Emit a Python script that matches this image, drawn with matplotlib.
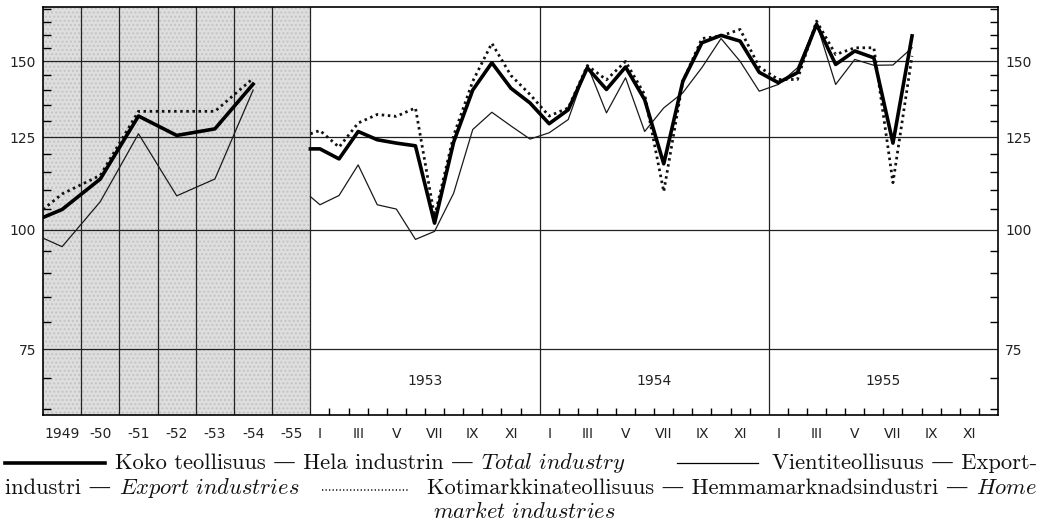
import matplotlib
matplotlib.use('Agg')
import matplotlib.pyplot as plt
from matplotlib.ticker import FixedLocator, NullFormatter
from matplotlib.lines import Line2D

plt.rcParams['mathtext.fontset'] = 'cm'

# vuosisarja 1949-1954 (ensimmainen arvo = alkupiste reunalla)
years = ['1949', '-50', '-51', '-52', '-53', '-54', '-55']
annual_total = [103, 105, 113, 131.5, 125.5, 127.5, 142]
annual_export = [98, 96, 107, 126, 108.5, 113, 140]
annual_home = [105, 109, 114, 133, 133, 133, 144]

# kuukausisarja I/1953 - VIII/1955 (ensimmainen arvo = alkupiste reunalla)
month_total = [121.5, 121.5, 118.6, 126.7, 124.2, 123.2, 122.4, 101.6, 123.5,
               140, 149.5, 140.6, 135.7, 129.1, 133.5, 147.7, 140.2, 148,
               136.8, 117.2, 143, 156.9, 159.7, 157.5, 146.1, 142.5, 146, 164,
               148.9, 153.8, 151.3, 123.2, 159.5]
month_export = [108.3, 106.2, 108.6, 116.9, 106.2, 105.1, 97.7, 99.6, 109.2,
                127.3, 132.7, 128.4, 124.4, 126.3, 130.4, 148.6, 132.5, 144.2,
                126.7, 134.1, 139.1, 147.8, 158.5, 150, 139.6, 141.9, 147.7,
                164.5, 141.9, 150.7, 148.6, 148.7, 155]
month_home = [126, 127, 122, 129.3, 132, 131.4, 134.1, 103.2, 125.5, 143,
              156.7, 145, 138.5, 131.5, 134.1, 148.5, 143.5, 150, 138.5, 109.6,
              143, 158.5, 159.5, 162, 148, 143.6, 143.6, 165.3, 152.5, 155, 155,
              112, 152]
month_years = ['1953', '1954', '1955']
roman = ['I', 'III', 'V', 'VII', 'IX', 'XI']

fig = plt.figure(figsize=(10.43, 5.23), dpi=100)
ax = fig.add_axes([43 / 1043, 1 - 415 / 523, 955 / 1043, 408 / 523])

# x-akseli: vuosi = 2 yksikkoa, kuukausi = 1 yksikko
xa = [2 * p + 1 for p in [-0.5] + list(range(len(annual_total) - 1))]
xm = [14 + p + 0.5 for p in [-0.5] + list(range(len(month_total) - 1))]

ax.axvspan(0, 14, facecolor='#dedede', edgecolor='#c4c4c4', hatch='....',
           zorder=0, lw=0)
for v in [75, 100, 125, 150]:
    ax.axhline(v, color='#222222', lw=0.9, zorder=1)
for x in list(range(2, 15, 2)) + [26, 38]:
    ax.axvline(x, color='#222222', lw=0.9, zorder=1)

for xs, tot, exp, home in [(xa, annual_total, annual_export, annual_home),
                           (xm, month_total, month_export, month_home)]:
    ax.plot(xs, exp, color='#1a1a1a', lw=0.9, zorder=3)
    ax.plot(xs, home, color='#111111', lw=2.0, ls=(0, (0.9, 1.3)), zorder=3)
    ax.plot(xs, tot, color='#000000', lw=2.6, zorder=4)

for i, y in enumerate(month_years):
    ax.text(20 + 12 * i, 69.5, y, ha='center', va='center', fontsize=10,
            color='#222222')

ax.set_yscale('log')
ax.set_ylim(64, 171)
ax.set_xlim(0, 50)

ax.set_yticks([75, 100, 125, 150])
ax.set_yticklabels(['75', '100', '125', '150'])
ax.yaxis.set_minor_locator(FixedLocator(
    [v for v in range(65, 171, 5) if v not in (75, 100, 125, 150)]))
ax.yaxis.set_minor_formatter(NullFormatter())
ax.tick_params(axis='y', which='major', length=0, pad=5, labelsize=10,
               labelleft=True, labelright=True, colors='#222222')
ax.tick_params(axis='y', which='minor', direction='in', length=6, width=1,
               left=True, right=True)

lab_x = [2 * i + 1 for i in range(len(years))] + \
    [14 + 12 * k + m + 0.5 for k in range(3) for m in range(0, 12, 2)]
ax.set_xticks(lab_x)
ax.set_xticklabels(years + roman * 3)
ax.xaxis.set_minor_locator(FixedLocator([14 + k for k in range(1, 36) if k % 12]))
ax.tick_params(axis='x', which='major', length=0, pad=9, labelsize=10,
               colors='#222222')
ax.tick_params(axis='x', which='minor', direction='in', length=5, width=1)

for s in ax.spines.values():
    s.set_linewidth(1.2)

# selitteet
W, H = 1043, 523
renderer = fig.canvas.get_renderer()
FS = 16.2


def seg(x0, x1, y, **kw):
    fig.add_artist(Line2D([x0 / W, x1 / W], [1 - y / H, 1 - y / H],
                          transform=fig.transFigure, color='k', **kw))


def put(parts, x, y, right=False):
    texts = []
    for s in parts:
        t = fig.text(x / W, 1 - y / H, s, fontsize=FS,
                     family=['cmr10', 'DejaVu Serif'], va='baseline',
                     ha='left', color='#111111')
        texts.append(t)
        x += t.get_window_extent(renderer).width
    if right:
        shift = (x - right) / W
        for t in texts:
            px, py = t.get_position()
            t.set_position((px - shift, py))
    return texts[0].get_window_extent(renderer).x0


seg(5, 105, 463, lw=2.6)
put(['Koko teollisuus — Hela industrin — ', r'$\mathit{Total\ industry}$'],
    115, 469)
x_v = put(['Vientiteollisuus — Export-'], 0, 469, right=1037)
seg(x_v - 95, x_v - 14, 463, lw=0.9)
put(['industri — ', r'$\mathit{Export\ industries}$'], 5, 494)
seg(322, 408, 490, lw=1.1, ls=(0, (0.8, 1.5)))
x_k = put(['Kotimarkkinateollisuus — Hemmamarknadsindustri — ',
           r'$\mathit{Home}$'], 0, 494, right=1037)
put([r'$\mathit{market\ industries}$'], x_k + 6, 518)

fig.savefig('out.png', dpi=100)
